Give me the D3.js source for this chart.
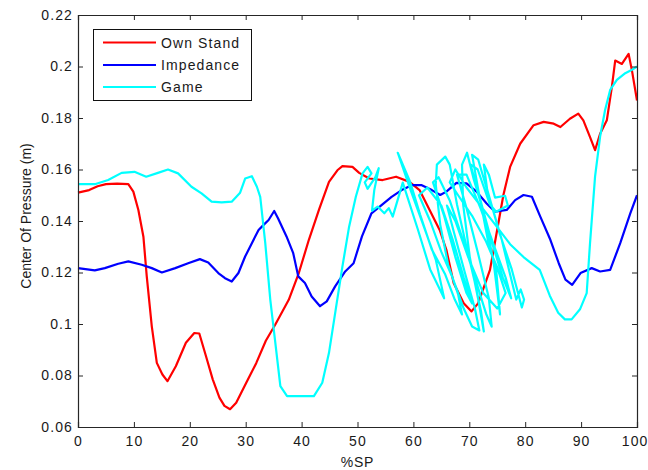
<!DOCTYPE html>
<html>
<head>
<meta charset="utf-8">
<script src="https://cdn.jsdelivr.net/npm/d3@7"></script>
<style>
  html, body { margin: 0; padding: 0; background: #fff; }
  svg { display: block; font-family: Arial, "Liberation Sans", sans-serif; }
</style>
</head>
<body>
<svg id="chart" width="648" height="470"></svg>
<script>
// Centre of pressure traces over the stance phase (%SP), one series per condition.
const seriesNames = ["Own Stand", "Impedance", "Game"];
const seriesColors = ["#ff0000", "#0000ff", "#00ffff"];

const ownStand = [
  [0,0.151],[2,0.152],[3.5,0.1535],[5,0.1543],[7,0.1545],[9,0.1543],[9.9,0.1514],[10.8,0.1443],
  [11.7,0.1339],[12.3,0.1185],[13.2,0.0991],[14.1,0.0849],[15.1,0.0804],[16.0,0.0778],[17.5,0.0836],
  [19.3,0.0927],[20.8,0.0965],[21.7,0.0963],[22.9,0.0875],[24.1,0.0785],[25.3,0.0714],[26.2,0.0682],
  [27.2,0.0669],[28.3,0.0694],[30.1,0.0772],[31.9,0.0849],[33.6,0.0935],[35.3,0.0998],[37.7,0.1094],
  [39.5,0.1198],[41.3,0.1327],[43.1,0.1443],[44.9,0.1552],[46.4,0.1597],[47.3,0.1613],[49.1,0.161],
  [50.3,0.1587],[52.1,0.1565],[54.5,0.1559],[56.9,0.1572],[59.3,0.1552],[61.1,0.152],[62.9,0.1443],
  [64.7,0.1365],[65.9,0.1288],[67.2,0.1159],[69.0,0.1081],[70.4,0.1049],[71.6,0.1081],[73.7,0.121],
  [75.2,0.1391],[76.1,0.1501],[77.3,0.161],[79.1,0.170],[81.5,0.1772],[83.3,0.1785],[85.1,0.1778],
  [86.3,0.1765],[88.0,0.1797],[89.5,0.1817],[90.4,0.1791],[91.6,0.1726],[92.5,0.1675],[93.4,0.1739],
  [94.6,0.1791],[95.5,0.192],[96.1,0.2023],[97.3,0.201],[98.5,0.2049],[99.1,0.1984],[100,0.1868]
];

const impedance = [
  [0,0.1217],[3,0.1208],[4.8,0.1217],[7.2,0.1234],[9,0.1243],[11.4,0.123],[13.2,0.1217],[15,0.12],
  [17.4,0.1217],[19.7,0.1236],[21.8,0.1252],[23.3,0.1239],[25.1,0.1198],[26.3,0.1178],[27.5,0.1165],
  [28.7,0.1198],[29.9,0.1262],[31.1,0.1314],[32.3,0.1365],[33.2,0.1385],[34.1,0.1404],[35.1,0.1439],
  [35.8,0.141],[37.3,0.134],[38.5,0.1275],[39.4,0.1185],[40.6,0.1159],[41.8,0.1107],[43.3,0.1069],
  [44.5,0.1088],[46,0.1146],[47.8,0.1204],[49.3,0.1236],[50.8,0.134],[52.5,0.143],[54.3,0.1462],
  [56.1,0.1494],[57.9,0.152],[59.7,0.1539],[61.5,0.1539],[63.3,0.152],[64.8,0.1501],[65.9,0.1514],
  [67.7,0.1548],[69.5,0.1546],[71.3,0.1514],[73.1,0.1468],[74.6,0.1436],[76.7,0.1443],[78.2,0.1481],
  [79.7,0.1501],[81.2,0.1494],[82.7,0.1417],[84.5,0.1327],[86,0.1236],[87.2,0.1172],[88.4,0.1152],
  [89.9,0.1198],[91.9,0.1217],[93.4,0.1204],[95.2,0.121],[97,0.1314],[98.8,0.143],[100,0.150]
];

// %SP is not monotonic for this condition, so the trace doubles back on itself.
const game = [
  [0,0.1543],[3,0.1543],[5.4,0.1559],[7.8,0.1587],[10.1,0.1591],[12.2,0.1572],[14.3,0.1587],
  [16.1,0.160],[17.9,0.1585],[20.3,0.1533],[22.1,0.1507],[23.9,0.1475],[25.7,0.1472],[27.5,0.1475],
  [29,0.151],[29.9,0.1565],[31.1,0.1574],[32,0.1533],[32.6,0.1494],[33.5,0.1314],[34.4,0.1094],
  [35.3,0.0927],[36.2,0.0759],[37.4,0.072],[39.5,0.072],[42.2,0.072],[43.7,0.0772],[44.9,0.0888],
  [46.1,0.1056],[47.3,0.1223],[48.5,0.1378],[49.7,0.1494],[50.9,0.1585],[51.8,0.161],
  [52.5,0.1585],[51.3,0.155],[51.8,0.1525],[53.2,0.157],[53.8,0.1605],[53.0,0.152],[52.6,0.144],
  [53.6,0.1456],[54.8,0.143],[55.6,0.145],[56.3,0.1417],
  [58.1,0.1549],[60.8,0.1367],[63.0,0.1212],[65.5,0.110],[64.0,0.125],[61.5,0.140],[59.5,0.152],
  [57.2,0.1665],[59.4,0.1553],[61.2,0.1425],[63.3,0.1289],[65.7,0.1192],[67.4,0.1095],[68.7,0.1037],
  [68.0,0.1115],[66.2,0.1231],[64.8,0.1386],[64.0,0.1541],[64.2,0.1619],[65.7,0.165],[66.5,0.1619],
  [67.8,0.1464],[69.4,0.1309],[71.0,0.1161],[72.1,0.1049],[72.6,0.0971],[71.6,0.1095],[70.1,0.1258],
  [68.9,0.1464],[68.7,0.1619],[69.6,0.1665],[70.8,0.1561],[72.8,0.1417],[74.4,0.1231],[75.5,0.1037],
  [74.8,0.1212],[73.3,0.1328],[71.6,0.1522],[70.5,0.1657],[71.6,0.1638],[73.7,0.1483],[75.8,0.1328],
  [77.3,0.1192],[78.4,0.1095],[79.2,0.1134],[79.8,0.1095],[79.4,0.1064],[77.6,0.1212],[75.5,0.1347],
  [73.2,0.1522],[72.6,0.1619],[73.5,0.158],[74.6,0.1491],[76.4,0.1498],[76.9,0.146],[74.8,0.1436],
  [73.7,0.1464],[71.5,0.160],[70.2,0.162],[72.0,0.148],[74.0,0.132],[76.0,0.118],[77.5,0.110],
  [76.5,0.118],[74.5,0.130],[72.0,0.145],[69.5,0.158],[67.8,0.158],[69.5,0.145],[71.5,0.128],
  [73.5,0.110],[74.0,0.099],[73.0,0.104],[71.0,0.118],[68.5,0.135],[66.5,0.148],[64.5,0.157],
  [63.5,0.155],[65.5,0.142],[67.5,0.126],[69.5,0.112],[70.5,0.108],[69.0,0.118],[67.0,0.133],
  [65.0,0.146],[62.5,0.153],[61.0,0.150],[63.0,0.140],[65.0,0.128],[67.0,0.118],[69.0,0.106],
  [70.5,0.099],[71.8,0.0975],[71.0,0.106],[69.2,0.120],[67.2,0.136],[66.0,0.146],[67.5,0.140],
  [69.8,0.126],[72.5,0.112],[75.0,0.106],[76.5,0.112],[75.0,0.122],[73.0,0.132],[70.5,0.142],
  [68.0,0.150],[66.5,0.155],[67.5,0.160],[69.5,0.153],[72.0,0.146],[74.5,0.139],[77.3,0.131],
  [79.7,0.126],[82.6,0.121],[84.4,0.111],[85.9,0.1044],[87.1,0.1018],[88.3,0.1018],[89.8,0.1057],
  [91.0,0.112],[91.6,0.1315],[92.5,0.1573],[93.4,0.1728],[94.3,0.1832],[95.2,0.1909],[96.4,0.1948],
  [97.9,0.1974],[99.1,0.1987],[100,0.200]
];

const xTicks = [0, 10, 20, 30, 40, 50, 60, 70, 80, 90, 100];
const yTicks = [0.06, 0.08, 0.1, 0.12, 0.14, 0.16, 0.18, 0.2, 0.22];
const xLabel = "%SP";
const yLabel = "Center Of Pressure (m)";

const svg = d3.select("#chart");
const box = { left: 78, right: 637, top: 15, bottom: 427 };

const x = d3.scaleLinear().domain([0, 100]).range([box.left, box.right]);
const y = d3.scaleLinear().domain([0.06, 0.22]).range([box.bottom, box.top]);

const line = d3.line().x(d => x(d[0])).y(d => y(d[1]));

// traces, drawn in series order so the later ones sit on top
const allSeries = [ownStand, impedance, game];
svg.append("g").selectAll("path")
  .data(allSeries)
  .join("path")
  .attr("d", line)
  .attr("fill", "none")
  .attr("stroke", (d, i) => seriesColors[i])
  .attr("stroke-width", 2.2)
  .attr("stroke-linejoin", "round");

// axes box with inward ticks on every side
const axisColor = "#262626";
const tickLen = 5;
const fmt = d => String(+d.toFixed(2));

const bottomAxis = d3.axisBottom(x).tickValues(xTicks).tickSize(-tickLen).tickPadding(9).tickFormat(fmt);
const topAxis = d3.axisTop(x).tickValues(xTicks).tickSize(-tickLen).tickFormat("");
const leftAxis = d3.axisLeft(y).tickValues(yTicks).tickSize(-tickLen).tickPadding(5).tickFormat(fmt);
const rightAxis = d3.axisRight(y).tickValues(yTicks).tickSize(-tickLen).tickFormat("");

function styleAxis(g) {
  g.select(".domain").attr("stroke", axisColor).attr("stroke-width", 1.2);
  g.selectAll(".tick line").attr("stroke", axisColor).attr("stroke-width", 1);
  g.selectAll(".tick text")
    .attr("fill", "#1a1a1a")
    .style("font-size", "14px")
    .style("letter-spacing", "1.1px")
    .style("font-family", "Arial, 'Liberation Sans', sans-serif");
}

svg.append("g").attr("transform", `translate(0,${box.bottom})`).call(bottomAxis).call(styleAxis);
svg.append("g").attr("transform", `translate(0,${box.top})`).call(topAxis).call(styleAxis);
svg.append("g").attr("transform", `translate(${box.left},0)`).call(leftAxis).call(styleAxis);
svg.append("g").attr("transform", `translate(${box.right},0)`).call(rightAxis).call(styleAxis);

// keep the last x label inside the frame edge
svg.selectAll("g .tick text")
  .filter(d => d === 100)
  .attr("text-anchor", "end")
  .attr("x", 648 - box.right);

// axis titles
svg.append("text")
  .attr("x", (box.left + box.right) / 2)
  .attr("y", 467)
  .attr("text-anchor", "middle")
  .style("font-size", "14px")
  .style("letter-spacing", "0.8px")
  .attr("fill", "#1a1a1a")
  .text(xLabel);

svg.append("text")
  .attr("transform", "translate(31,216) rotate(-90)")
  .attr("text-anchor", "middle")
  .style("font-size", "14px")
  .attr("fill", "#1a1a1a")
  .text(yLabel);

// legend
const legend = svg.append("g");
legend.append("rect")
  .attr("x", 93.5).attr("y", 29.5)
  .attr("width", 158).attr("height", 71)
  .attr("fill", "#fff")
  .attr("stroke", "#111")
  .attr("stroke-width", 1);

const rowY = [42.5, 65, 87];
seriesNames.forEach((name, i) => {
  legend.append("line")
    .attr("x1", 103).attr("x2", 156)
    .attr("y1", rowY[i]).attr("y2", rowY[i])
    .attr("stroke", seriesColors[i])
    .attr("stroke-width", 2.2);
  legend.append("text")
    .attr("x", 161).attr("y", rowY[i] + 5)
    .style("font-size", "14px")
    .style("letter-spacing", "1.1px")
    .attr("fill", "#1a1a1a")
    .text(name);
});
</script>
</body>
</html>
